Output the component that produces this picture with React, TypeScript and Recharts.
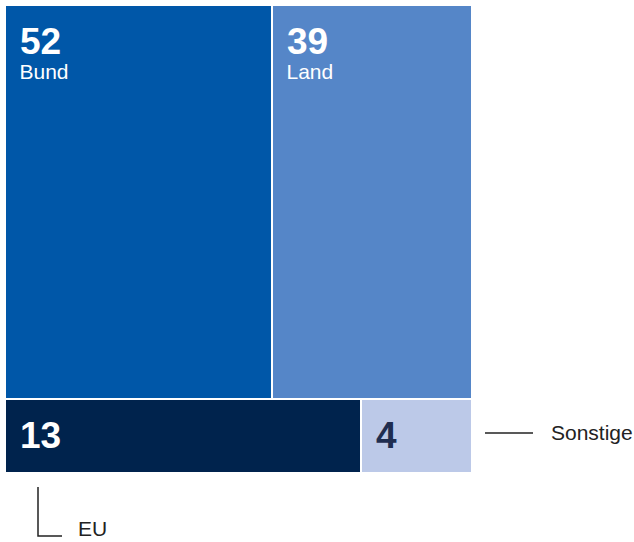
import { Treemap } from 'recharts';

const names = ['Bund', 'Land', 'EU', 'Sonstige'];
const values = [52, 39, 13, 4];
// label shown inside the tile (EU and Sonstige are labelled outside)
const innerLabels = ['Bund', 'Land', '', ''];

const COLORS = ['#0057a8', '#5586c8', '#00234d', '#bcc9e8'];
const NUMBER_COLORS = ['#ffffff', '#ffffff', '#ffffff', '#1f2d50'];

const FONT = '"Liberation Sans", Arial, Helvetica, sans-serif';

const data = names.map((name, i) => ({ name, value: values[i], idx: i }));

function Tile(props: any) {
  const { x, y, width, height, depth, idx } = props;
  if (depth !== 1 || idx === undefined) return null;
  return (
    <g>
      <rect
        x={x}
        y={y}
        width={width}
        height={height}
        fill={COLORS[idx]}
        stroke="#ffffff"
        strokeWidth={2}
      />
      <text
        x={x + 15}
        y={y + 49}
        fill={NUMBER_COLORS[idx]}
        fontFamily={FONT}
        fontSize={37}
        fontWeight="bold"
      >
        {values[idx]}
      </text>
      {innerLabels[idx] ? (
        <text x={x + 14.5} y={y + 74} fill="#ffffff" fontFamily={FONT} fontSize={21}>
          {innerLabels[idx]}
        </text>
      ) : null}
    </g>
  );
}

export default function App() {
  return (
    <div
      style={{
        position: 'absolute',
        left: 0,
        top: 0,
        width: 634,
        height: 542,
        background: '#ffffff',
      }}
    >
      <div style={{ position: 'absolute', left: 5, top: 5 }}>
        <Treemap
          width={467}
          height={468}
          data={data}
          dataKey="value"
          nameKey="name"
          content={<Tile />}
          isAnimationActive={false}
        />
      </div>
      <svg
        width={634}
        height={542}
        style={{ position: 'absolute', left: 0, top: 0, pointerEvents: 'none' }}
      >
        <line x1={485} y1={433} x2={533} y2={433} stroke="#222222" strokeWidth={1.5} />
        <text x={551} y={440} fontFamily={FONT} fontSize={21} fill="#222222">
          {names[3]}
        </text>
        <polyline
          points="38,487 38,536 62,536"
          fill="none"
          stroke="#222222"
          strokeWidth={1.5}
        />
        <text x={78} y={536} fontFamily={FONT} fontSize={21} fill="#222222">
          {names[2]}
        </text>
      </svg>
    </div>
  );
}
